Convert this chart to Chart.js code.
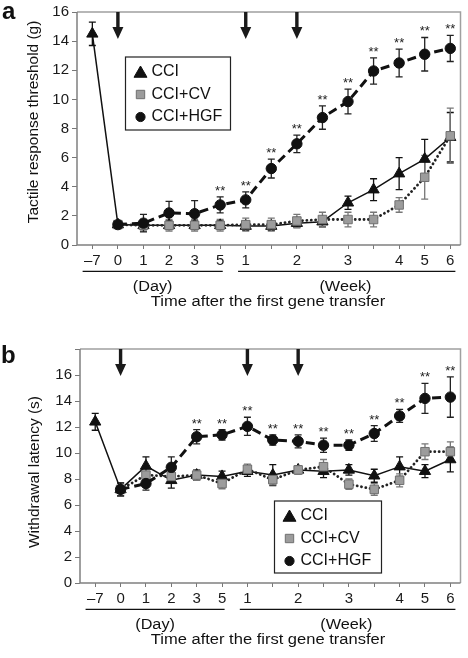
<!DOCTYPE html>
<html><head><meta charset="utf-8">
<script src="https://cdn.jsdelivr.net/npm/chart.js@4.4.0/dist/chart.umd.min.js"></script>
<style>
html,body{margin:0;padding:0;background:#fff;}
#ca{position:absolute;left:0;top:0;}
#cb{position:absolute;left:0;top:330px;}
</style></head><body>
<canvas id="ca" width="468" height="330"></canvas>
<canvas id="cb" width="468" height="328"></canvas>
<script>
// ---------- DATA ----------
const xLabels = ["\u20137","0","1","2","3","5","1","","2","","3","","4","5","6"];
const xIndex  = [0,1,2,3,4,5,6,7,8,9,10,11,12,13,14];
const seriesNames = ["CCI","CCI+CV","CCI+HGF"];
const arrowIdx = [1,6,8];

// Panel a: tactile response threshold (g)
const aCCI    = [14.5,1.4,1.35,1.35,1.35,1.35,1.3,1.3,1.5,1.6,2.9,3.8,4.9,5.9,7.4];
const aCCIerr = [0.8,0.2,0.3,0.3,0.3,0.3,0.3,0.3,0.3,0.35,0.45,0.75,1.1,1.35,1.7];
const aCV     = [null,1.4,1.35,1.35,1.35,1.35,1.4,1.4,1.65,1.75,1.75,1.75,2.75,4.65,7.5];
const aCVerr  = [null,0.2,0.4,0.4,0.4,0.4,0.45,0.45,0.45,0.5,0.5,0.5,0.5,1.5,1.9];
const aHGF    = [null,1.4,1.5,2.2,2.15,2.75,3.1,5.25,6.95,8.75,9.85,11.95,12.5,13.1,13.5];
const aHGFerr = [null,0.2,0.6,0.8,0.9,0.55,0.55,0.65,0.6,0.8,0.85,0.9,0.95,1.15,0.9];
const aSig    = [0,0,0,0,0,1,1,1,1,1,1,1,1,1,1];
const aYTickLabels = [0,2,4,6,8,10,12,14,16];

// Panel b: withdrawal latency (s)
const bCCI    = [12.4,7.2,9.0,7.9,8.3,8.2,8.6,8.3,8.7,8.6,8.7,8.25,8.95,8.6,9.5];
const bCCIerr = [0.65,0.5,0.7,0.6,0.4,0.4,0.4,0.8,0.3,0.5,0.4,0.5,0.75,0.5,0.95];
const bCV     = [null,7.2,8.3,8.2,8.3,7.65,8.75,7.95,8.7,8.95,7.6,7.2,7.9,10.1,10.1];
const bCVerr  = [null,0.5,0.5,0.4,0.4,0.4,0.4,0.4,0.3,0.55,0.4,0.45,0.5,0.6,0.75];
const bHGF    = [null,7.2,7.65,8.9,11.25,11.4,12.05,11.0,10.9,10.6,10.6,11.5,12.85,14.2,14.3];
const bHGFerr = [null,0.5,0.5,0.8,0.55,0.4,0.7,0.4,0.5,0.55,0.4,0.6,0.5,1.15,1.55];
const bSig    = [0,0,0,0,1,1,1,1,1,1,1,1,1,1,1];
const bYTickLabels = [0,2,4,6,8,10,12,14,16];

const FONT = "'Liberation Sans', Arial, Helvetica, sans-serif";

function drawMarker(ctx, style, x, y, r, fill, stroke) {
  ctx.save(); ctx.fillStyle = fill; ctx.strokeStyle = stroke; ctx.lineWidth = 1;
  ctx.beginPath();
  if (style === 'triangle') { ctx.moveTo(x, y - r); ctx.lineTo(x + r*0.866, y + r*0.5); ctx.lineTo(x - r*0.866, y + r*0.5); ctx.closePath(); }
  else if (style === 'rect') { const s = r; ctx.rect(x - s, y - s, 2*s, 2*s); }
  else { ctx.arc(x, y, r, 0, Math.PI*2); }
  ctx.fill(); ctx.stroke(); ctx.restore();
}
function wideText(ctx, text, x, y, size, sx) {
  ctx.save(); ctx.translate(x, y); ctx.scale(sx, 1);
  ctx.font = size + 'px ' + FONT; ctx.textAlign = 'center'; ctx.textBaseline = 'alphabetic';
  ctx.fillStyle = '#111'; ctx.fillText(text, 0, 0); ctx.restore();
}

function buildChart(id, P) {
  const mk = (arr) => arr.map((v,i) => ({x: xIndex[i], y: v}));
  const datasets = [
    {label: seriesNames[0], data: mk(P.cci), err: P.cciErr, order: 3,
     borderColor:'#111', borderWidth:1.5, pointStyle:'triangle', pointRadius:6.5,
     pointBackgroundColor:'#111', pointBorderColor:'#111', pointBorderWidth:1, errColor:'#111'},
    {label: seriesNames[1], data: mk(P.cv), err: P.cvErr, order: 2,
     borderColor:'#222', borderWidth:2.8, borderDash:[0.1,4.3], borderCapStyle:'round',
     pointStyle:'rect', pointRadius:6, pointBackgroundColor:'#9c9c9c', pointBorderColor:'#707070', pointBorderWidth:1, errColor:'#777'},
    {label: seriesNames[2], data: mk(P.hgf), err: P.hgfErr, order: 1, sig: P.sig,
     borderColor:'#111', borderWidth:3, borderDash:[9,5],
     pointStyle:'circle', pointRadius:5.2, pointBackgroundColor:'#111', pointBorderColor:'#111', pointBorderWidth:1, errColor:'#222'}
  ];

  const decor = {
    id: 'decor',
    beforeDatasetsDraw(chart) {
      const ctx = chart.ctx, a = chart.chartArea, xs = chart.scales.x, ys = chart.scales.y;
      ctx.save();
      ctx.strokeStyle = '#a0a0a0'; ctx.lineWidth = 1.5;
      ctx.beginPath(); ctx.moveTo(a.left, a.top); ctx.lineTo(a.right, a.top); ctx.lineTo(a.right, a.bottom); ctx.stroke();
      ctx.strokeStyle = '#808080';
      ctx.beginPath(); ctx.moveTo(a.left, a.top); ctx.lineTo(a.left, a.bottom); ctx.lineTo(a.right, a.bottom); ctx.stroke();
      chart.data.datasets.forEach(ds => {
        ctx.strokeStyle = ds.errColor; ctx.lineWidth = 1.3;
        ds.data.forEach((p, i) => {
          const e = ds.err[i];
          if (p.y == null || e == null) return;
          const x = xs.getPixelForValue(p.x), y1 = ys.getPixelForValue(p.y + e), y2 = ys.getPixelForValue(p.y - e);
          ctx.beginPath();
          ctx.moveTo(x, y1); ctx.lineTo(x, y2);
          ctx.moveTo(x - 3.5, y1); ctx.lineTo(x + 3.5, y1);
          ctx.moveTo(x - 3.5, y2); ctx.lineTo(x + 3.5, y2);
          ctx.stroke();
        });
      });
      ctx.restore();
    },
    afterDatasetsDraw(chart) {
      const ctx = chart.ctx, a = chart.chartArea, xs = chart.scales.x, ys = chart.scales.y;
      ctx.save();
      const h = chart.data.datasets[2];
      ctx.fillStyle = '#222'; ctx.font = '13px ' + FONT; ctx.textAlign = 'center'; ctx.textBaseline = 'alphabetic';
      h.data.forEach((p, i) => {
        if (!h.sig[i] || p.y == null) return;
        const x = xs.getPixelForValue(p.x), y = ys.getPixelForValue(p.y + h.err[i]);
        ctx.fillText('**', x, y - 2);
      });
      ctx.fillStyle = '#1a1a1a';
      arrowIdx.forEach(i => {
        const x = xs.getPixelForValue(xIndex[i]), t = a.top;
        ctx.beginPath();
        ctx.moveTo(x - 1.7, t); ctx.lineTo(x + 1.7, t); ctx.lineTo(x + 1.7, t + 15);
        ctx.lineTo(x + 5.5, t + 15); ctx.lineTo(x, t + 27); ctx.lineTo(x - 5.5, t + 15);
        ctx.lineTo(x - 1.7, t + 15); ctx.closePath(); ctx.fill();
      });
      ctx.restore();
    },
    afterDraw(chart) {
      const ctx = chart.ctx, a = chart.chartArea, xs = chart.scales.x;
      ctx.save();
      ctx.fillStyle = '#111'; ctx.font = 'bold 24px ' + FONT; ctx.textAlign = 'left'; ctx.textBaseline = 'alphabetic';
      ctx.fillText(P.letter, P.letterX, P.letterY);
      ctx.font = '15px ' + FONT; ctx.textAlign = 'center'; ctx.textBaseline = 'middle';
      ctx.translate(P.yTitleX, P.yTitleY); ctx.rotate(-Math.PI/2); ctx.scale(1.03, 0.95); ctx.fillText(P.yTitle, 0, 0);
      ctx.setTransform(1,0,0,1,0,0);
      ctx.strokeStyle = '#111'; ctx.lineWidth = 1.3;
      const ly = a.bottom + 26.3;
      ctx.beginPath();
      ctx.moveTo(xs.getPixelForValue(-0.38), ly); ctx.lineTo(xs.getPixelForValue(5.1), ly);
      ctx.moveTo(xs.getPixelForValue(5.7), ly); ctx.lineTo(xs.getPixelForValue(14.2), ly);
      ctx.stroke();
      wideText(ctx, '(Day)', xs.getPixelForValue(2.36), a.bottom + 46, 14, 1.16);
      wideText(ctx, '(Week)', xs.getPixelForValue(9.9), a.bottom + 46, 14, 1.16);
      wideText(ctx, 'Time after the first gene transfer', 268, a.bottom + 61, 14, 1.18);
      const L = P.legend;
      ctx.strokeStyle = '#222'; ctx.lineWidth = 1.2;
      ctx.strokeRect(L.x, L.y, L.w, L.h);
      const rows = [15, 37.5, 60];
      const styles = [['triangle',7.5,'#111','#111'],['rect',4.2,'#9c9c9c','#707070'],['circle',4.6,'#111','#111']];
      ctx.font = '16px ' + FONT; ctx.textAlign = 'left'; ctx.textBaseline = 'middle';
      seriesNames.forEach((n, k) => {
        const s = styles[k];
        drawMarker(ctx, s[0], L.x + 15, L.y + rows[k] + (k===0 ? 1.5 : 0), s[1], s[2], s[3]);
        ctx.fillStyle = '#111';
        ctx.fillText(n, L.x + 26, L.y + rows[k]);
      });
      ctx.restore();
    }
  };

  return new Chart(document.getElementById(id), {
    type: 'line',
    data: { datasets },
    options: {
      responsive: false, animation: false,
      layout: { padding: { left: 0, right: 6, top: P.padTop, bottom: 0 } },
      plugins: { legend: { display: false }, tooltip: { enabled: false } },
      scales: {
        x: {
          type: 'linear', min: -0.6, max: 14.4,
          afterFit: s => { s.height = P.xHeight; },
          afterBuildTicks: s => { s.ticks = xIndex.map(v => ({ value: v })); },
          grid: { display: true, drawOnChartArea: false, drawTicks: true, tickLength: 4, color: '#777' },
          border: { display: false },
          ticks: { autoSkip: false, maxRotation: 0, padding: 3, color: '#1a1a1a',
                   font: { family: FONT, size: 15 },
                   callback: v => xLabels[v] ?? '' }
        },
        y: {
          min: 0, max: P.yMax,
          afterFit: s => { s.width = P.yWidth; },
          afterBuildTicks: s => { const t = []; for (let v = 0; v <= P.yMax; v++) t.push({ value: v }); s.ticks = t; },
          grid: { display: true, drawOnChartArea: false, drawTicks: true, tickLength: 5, color: '#777' },
          border: { display: false },
          ticks: { padding: 3, color: '#1a1a1a', font: { family: FONT, size: 15 },
                   callback: v => P.yTickLabels.includes(v) ? String(v) : '' }
        }
      }
    },
    plugins: [decor]
  });
}

buildChart('ca', {
  cci: aCCI, cciErr: aCCIerr, cv: aCV, cvErr: aCVerr, hgf: aHGF, hgfErr: aHGFerr, sig: aSig,
  yMax: 16, yTickLabels: aYTickLabels, yTitle: 'Tactile response threshold (g)',
  letter: 'a', letterX: 2, letterY: 19, yTitleX: 34, yTitleY: 122,
  padTop: 10, yWidth: 77, xHeight: 85,
  legend: { x: 125.5, y: 57, w: 105, h: 73 }
});
buildChart('cb', {
  cci: bCCI, cciErr: bCCIerr, cv: bCV, cvErr: bCVerr, hgf: bHGF, hgfErr: bHGFerr, sig: bSig,
  yMax: 18, yTickLabels: bYTickLabels, yTitle: 'Withdrawal latency (s)',
  letter: 'b', letterX: 1, letterY: 33, yTitleX: 35, yTitleY: 142,
  padTop: 19, yWidth: 80, xHeight: 75,
  legend: { x: 274.5, y: 171, w: 107, h: 72 }
});
</script>
</body></html>
